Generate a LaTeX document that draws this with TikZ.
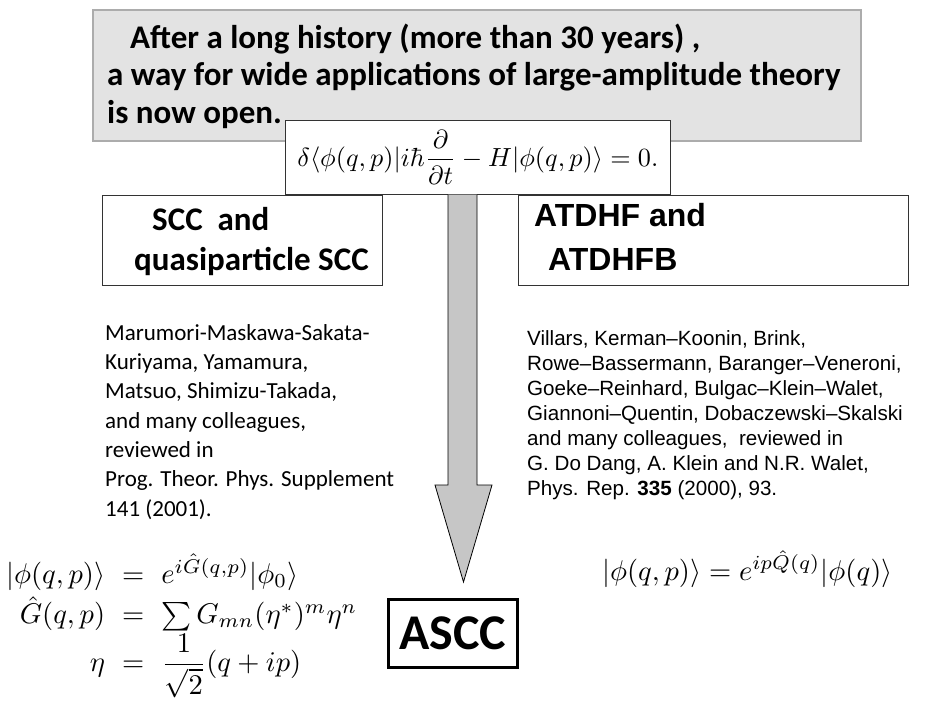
\documentclass[tikz,border=0pt]{standalone}
\usepackage{amsmath}
\usepackage{graphicx}
\usepackage{fontspec}
\newfontfamily\calibri{Carlito}
\newfontfamily\arialfont{Liberation Sans}
\usetikzlibrary{calc}

\tikzset{
  banner/.style={draw=gray!65, line width=1.5pt, fill=gray!22, anchor=north west, inner sep=0pt},
  plainbox/.style={draw=black!80, line width=0.7pt, fill=white, anchor=north west, inner sep=0pt},
  headline/.style={anchor=base west, inner sep=0pt, font=\calibri\bfseries\fontsize{33}{37}\selectfont},
  boxtitle/.style={anchor=base west, inner sep=0pt, font=\calibri\bfseries\fontsize{33}{37}\selectfont},
  boxtitleB/.style={anchor=base west, inner sep=0pt, font=\arialfont\bfseries\fontsize{32}{35}\selectfont},
  refsL/.style={anchor=base west, inner sep=0pt, font=\calibri\fontsize{23}{29}\selectfont},
  refsR/.style={anchor=base west, inner sep=0pt, font=\arialfont\fontsize{20.6}{25}\selectfont},
  bigarrow/.style={draw=black, line width=0.8pt, fill=gray!45, line join=miter},
  mathnode/.style={inner sep=0pt}
}

\begin{document}
\begin{tikzpicture}[x=1pt,y=-1pt]
\useasboundingbox (0,0) rectangle (946,702);

% headline panel
\node[banner, minimum width=768pt, minimum height=131pt] (panel) at (92,9) {};
\node[headline] (h1) at (130,48) {After a long history (more than 30 years) ,};
\node[headline] (h2) at (107,85) {a way for wide applications of large-amplitude theory};
\node[headline] (h3) at (107,123) {is now open.};

% variational principle
\node[plainbox, minimum width=385pt, minimum height=74pt] (eom) at (285,120) {};
\node[mathnode] (eomtxt) at (eom.center)
  {\scalebox{2.62}{$\displaystyle \delta\langle\phi(q,p)|i\hbar\frac{\partial}{\partial t}-H|\phi(q,p)\rangle=0.$}};

% the two approaches
\node[plainbox, minimum width=280pt, minimum height=90pt] (scc) at (102,195) {};
\node[boxtitle] (scc1) at (152,230) {SCC\ \ and};
\node[boxtitle] (scc2) at (134,270) {quasiparticle SCC};

\node[plainbox, minimum width=390pt, minimum height=90pt] (atdhf) at (518,195) {};
\node[boxtitleB] (at1) at (534,226) {ATDHF and};
\node[boxtitleB] (at2) at (548,270) {ATDHFB};

% references
\node[refsL] (r1) at (105,340) {Marumori-Maskawa-Sakata-};
\node[refsL] (r2) at (105,369) {Kuriyama, Yamamura,};
\node[refsL] (r3) at (105,398) {Matsuo, Shimizu-Takada,};
\node[refsL] (r4) at (105,428) {and many colleagues,};
\node[refsL] (r5) at (105,457) {reviewed in};
\node[refsL] (r6) at (105,486) {Prog. Theor. Phys. Supplement};
\node[refsL] (r7) at (105,516) {141 (2001).};

\node[refsR] (s1) at (527,345) {Villars, Kerman–Koonin, Brink,};
\node[refsR] (s2) at (527,370) {Rowe–Bassermann, Baranger–Veneroni,};
\node[refsR] (s3) at (527,395) {Goeke–Reinhard, Bulgac–Klein–Walet,};
\node[refsR] (s4) at (527,420) {Giannoni–Quentin, Dobaczewski–Skalski};
\node[refsR] (s5) at (527,445) {and many colleagues,\ \ reviewed in};
\node[refsR] (s6) at (527,470) {G. Do Dang, A. Klein and N.R. Walet,};
\node[refsR] (s7) at (527,495) {Phys. Rep. \textbf{335} (2000), 93.};

% result
\node[draw=black, line width=3pt, minimum width=129pt, minimum height=68pt,
      anchor=north west, inner sep=0pt,
      font=\calibri\bfseries\fontsize{50}{50}\selectfont] (ascc) at (386.5,597.5) {ASCC};

% broad arrow from the principle to the result
\coordinate (tip) at (463.5,582);
\coordinate (sL) at (448,0);
\coordinate (sR) at (477,0);
\draw[bigarrow] (sL |- eom.south) -- (sL |- 0,485) -- (435,485)
  -- (tip) -- (492,485) -- (sR |- 0,485) -- (sR |- eom.south);

% parametrisations
\node[mathnode, anchor=west] (pL) at (6,626)
  {\scalebox{2.85}{$\displaystyle
   \begin{array}{@{}r@{\hspace{6pt}=\hspace{6pt}}l@{}}
   |\phi(q,p)\rangle & e^{i\hat{G}(q,p)}|\phi_0\rangle\\[1pt]
   \hat{G}(q,p) & \sum G_{mn}(\eta^*)^m\eta^n\\
   \eta & \dfrac{1}{\sqrt{2}}(q+ip)
   \end{array}$}};
\node[mathnode, anchor=base west] (pR) at (602,580)
  {\scalebox{2.85}{$|\phi(q,p)\rangle=e^{ip\hat{Q}(q)}|\phi(q)\rangle$}};
\end{tikzpicture}
\end{document}
